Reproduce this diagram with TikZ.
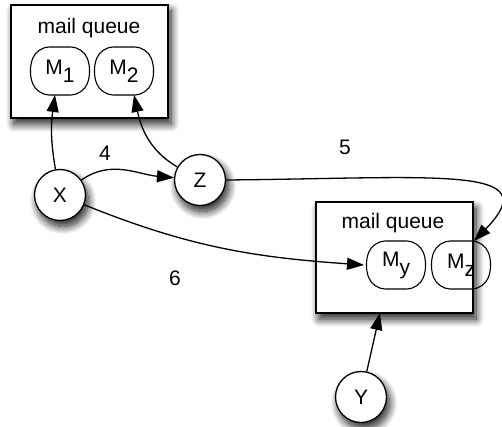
\documentclass[tikz,border=0pt]{standalone}
\usepackage{fontspec}
\setmainfont{Liberation Sans}
\usetikzlibrary{arrows.meta,shadows.blur}
\newcommand\msub[1]{\raisebox{-0.38em}{#1}}
\newcommand\mshape[1]{\draw[mline] ([xshift=9pt]#1.north west) -- ([xshift=-9pt]#1.north east) -- (#1.east) -- ([xshift=-9pt]#1.south east) -- ([xshift=9pt]#1.south west) -- (#1.west) -- cycle;}
\tikzset{
  txt/.style={font=\fontsize{21pt}{25pt}\selectfont, inner sep=0pt},
  sh/.style={blur shadow={shadow xshift=3pt, shadow yshift=-6pt, shadow blur radius=8pt, shadow blur steps=14, shadow opacity=90}},
  queue/.style={draw, line width=1.4pt, fill=white, inner sep=0pt, outer sep=0pt, sh},
  mbox/.style={txt, minimum width=64pt, minimum height=48pt, inner sep=0pt, outer sep=0pt},
  mline/.style={line width=1.1pt, rounded corners=12pt},
  agent/.style={circle, draw, line width=1.3pt, fill=white, minimum size=51pt, inner sep=0pt, txt, sh},
  arr/.style={line width=1.3pt, -{Triangle[length=17pt,width=12pt]}},
}
\begin{document}
\begin{tikzpicture}[x=1pt,y=1pt]
\useasboundingbox (0,0) rectangle (502,-427);
% top queue
\node[queue, minimum width=157pt, minimum height=113pt] (q1) at (89.5,-61.5) {};
\node[txt] (t1) at (89,-28) {mail queue};
\node[mbox] (m1) at (60,-71) {M\msub{1}};
\node[mbox] (m2) at (124,-71) {M\msub{2}};
\mshape{m1}
\mshape{m2}
% bottom queue
\node[queue, minimum width=157pt, minimum height=111pt] (q2) at (394.5,-257.5) {};
\node[txt] (t2) at (393,-223) {mail queue};
\node[mbox] (my) at (396,-265) {M\msub{y}};
\node[mbox] (mz) at (461,-265) {M\msub{z}};
\mshape{my}
\mshape{mz}
% agents
\node[agent] (x) at (60,-195) {X};
\node[agent] (z) at (200,-180) {Z};
\node[agent] (y) at (361,-397) {Y};
% labels
\node[txt] (l4) at (105,-153) {4};
\node[txt] (l5) at (345,-147) {5};
\node[txt] (l6) at (175,-278) {6};
% connectors
\draw[arr] (x) to[out=100,in=-98,looseness=1] ([xshift=-5pt]m1.south);
\draw[arr] (z) to[out=150,in=-78] ([xshift=10pt]m2.south);
\draw[arr] (x) to[out=35,in=175] (z);
\draw[arr] (z.east) .. controls (440,-178) and (548,-165) .. ([xshift=13pt]mz.north);
\draw[arr] (x) to[out=-22,in=176] (my.west);
\draw[arr] (y) -- ([xshift=-14.5pt]q2.south);
\end{tikzpicture}
\end{document}
